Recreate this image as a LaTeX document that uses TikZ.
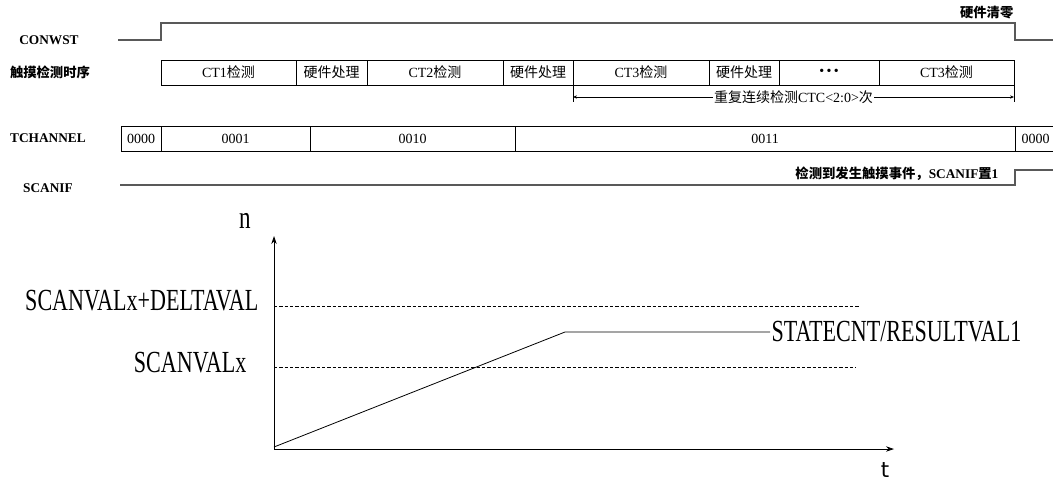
\documentclass[tikz,border=0pt]{standalone}
\usepackage{fontspec}
\setmainfont{Liberation Serif}
\newfontfamily\cjk{Noto Sans CJK SC}
\newfontfamily\graphfont[FakeStretch=0.72]{Liberation Serif}
\newfontfamily\axisfont{DejaVu Sans}
\usetikzlibrary{arrows.meta}

\tikzset{
  siglabel/.style={font=\bfseries\fontsize{10}{12}\selectfont, inner sep=1pt},
  cell/.style={font=\fontsize{10.5}{12}\selectfont, inner sep=1pt},
  wave/.style={line width=0.8pt, black!65},
  thin line/.style={line width=0.6pt},
  vallabel/.style={font=\graphfont\fontsize{23}{26}\selectfont, inner sep=1pt, anchor=east},
}

\begin{document}
\begin{tikzpicture}[x=0.75pt,y=-0.75pt]
    \useasboundingbox (0,0) rectangle (1053,483);

    % CONWST
    \node[siglabel] (conwst) at (49,40) {CONWST};
    \draw[wave] (118,40) -- (161,40) -- (161,23) -- (1015,23) -- (1015,40) -- (1053,40);
    \node[siglabel, anchor=south east] (clear) at (1015,21) {\cjk 硬件清零};

    % Touch detection sequence
    \node[siglabel] (touch) at (50,72) {\cjk 触摸检测时序};
    \foreach \a/\b/\txt [count=\i] in {161/296/{CT1{\cjk 检测}}, 296/367/{\cjk 硬件处理},
        367/503/{CT2{\cjk 检测}}, 503/573/{\cjk 硬件处理}, 573/709/{CT3{\cjk 检测}},
        709/779/{\cjk 硬件处理}, 779/879/{\textbullet\,\textbullet\,\textbullet}, 879/1014/{CT3{\cjk 检测}}}{
        \draw[thin line] (\a,60) rectangle (\b,85);
        \node[cell] (seq\i) at ({(\a+\b)/2},72.5) {\txt};
    }
    % Repeat bracket
    \coordinate (repL) at (573,97);
    \coordinate (repR) at (1014,97);
    \draw[thin line] (573,85) -- (573,102);
    \draw[thin line] (1014,85) -- (1014,102);
    \draw[thin line, {Stealth[length=3pt,width=2.5pt]}-{Stealth[length=3pt,width=2.5pt]}] (repL) --
        node[cell, fill=white] (repeat) {{\cjk 重复连续检测}CTC<2:0>{\cjk 次}} (repR);

    % TCHANNEL
    \node[siglabel] (tchannel) at (48,138) {TCHANNEL};
    \foreach \a/\b/\txt [count=\i] in {121/161/0000, 161/310/0001, 310/515/0010, 515/1015/0011, 1015/1056/0000}{
        \draw[thin line] (\a,126) rectangle (\b,151);
        \node[cell] (ch\i) at ({(\a+\b)/2},138.5) {\txt};
    }

    % SCANIF
    \node[siglabel] (scanif) at (48,188) {SCANIF};
    \draw[wave] (120,185) -- (1015,185) -- (1015,170) -- (1053,170);
    \node[siglabel, anchor=east] (event) at (1000,174) {{\cjk 检测到发生触摸事件，}SCANIF{\cjk 置}1};

    % Counter graph
    \coordinate (O) at (274,449);
    \draw[thin line, -{Stealth[length=6pt,width=4pt]}] (O) -- (274,236) coordinate (ytop);
    \draw[thin line, -{Stealth[length=6pt,width=4pt]}] (O) -- (894,449) coordinate (xend);
    \node[font=\graphfont\fontsize{24}{26}\selectfont] (n) at (245,221) {n};
    \node[font=\axisfont\fontsize{16}{18}\selectfont, inner sep=0pt] (t) at (885,470) {t};
    \draw[thin line, dash pattern=on 2.5pt off 1.5pt] (274,306) -- (860,306);
    \draw[thin line, dash pattern=on 2.5pt off 1.5pt] (274,367) -- (856,367);
    \node[vallabel] (delta) at (260,301) {SCANVALx+DELTAVAL};
    \node[vallabel] (scanval) at (248,363) {SCANVALx};
    \node[vallabel, anchor=west] (result) at (770,332) {STATECNT/RESULTVAL1};
    \draw[thin line] (274,447) -- (565,332) -- (result.west);
\end{tikzpicture}
\end{document}
